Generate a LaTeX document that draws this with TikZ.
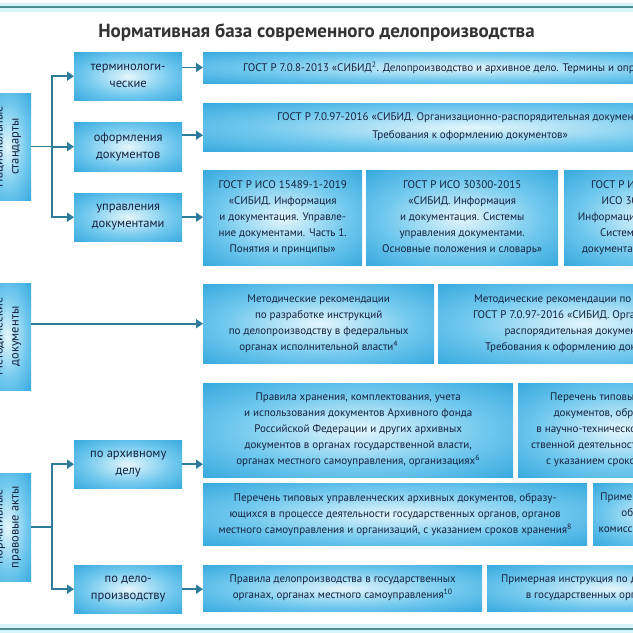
\documentclass[tikz,border=0pt]{standalone}
\usepackage{fontspec}
\setmainfont{PT Sans}
\usetikzlibrary{arrows.meta}
\definecolor{boxblue}{HTML}{1898D6}
\definecolor{boxmid}{HTML}{72C9EE}
\definecolor{boxlight}{HTML}{E4F6FC}
\definecolor{txt}{HTML}{15223F}
\definecolor{conncol}{HTML}{2E7C9C}
\definecolor{linecol}{HTML}{4E8C93}
\definecolor{glowcol}{HTML}{D5F5FA}
\definecolor{titlecol}{HTML}{333333}
\pgfdeclareradialshading{boxshade}{\pgfpoint{0bp}{0bp}}{color(0bp)=(boxlight); color(20bp)=(boxmid); color(44bp)=(boxblue); color(70bp)=(boxblue)}
\tikzset{
  box/.style={shading=boxshade, draw=none, text=txt, align=center, inner sep=0pt,
    font=\fontsize{11}{16}\selectfont},
  lvltwo/.style={box, font=\fontsize{12.5}{17}\selectfont},
  lvlone/.style={box, rotate=90, font=\fontsize{12.5}{16}\selectfont},
  conn/.style={draw=conncol, line width=1.8pt},
  arr/.style={conn, -{Triangle[length=7pt,width=9pt]}},
}
\begin{document}
\begin{tikzpicture}[x=1pt,y=-1pt]
\useasboundingbox (0,0) rectangle (633,633);
\clip (0,0) rectangle (633,633);
\fill[white] (0,0) rectangle (633,633);
% frame lines
\fill[glowcol] (0,3) rectangle (633,12);
\draw[linecol, line width=2.5pt] (0,7) -- (633,7);
\fill[glowcol] (0,624) rectangle (633,633);
\draw[linecol, line width=2.5pt] (0,629) -- (633,629);
% title
\node[font=\fontsize{19}{22}\bfseries\selectfont, text=titlecol, anchor=base] (title) at (316.5,37) {Нормативная база современного делопроизводства};
% level 1
\node[lvlone, minimum width=107pt, minimum height=47pt] (A) at (7.5,146.5) {Национальные\\стандарты};
\node[lvlone, minimum width=107pt, minimum height=47pt] (B) at (7.5,336.5) {Методические\\документы};
\node[lvlone, minimum width=108pt, minimum height=47pt] (C) at (7.5,527) {Нормативные\\правовые акты};
% level 2
\node[lvltwo, anchor=north west, minimum width=108pt, minimum height=48pt] (term) at (74,52) {терминологи-\\ческие};
\node[lvltwo, anchor=north west, minimum width=108pt, minimum height=49pt] (oform) at (74,122) {оформления\\документов};
\node[lvltwo, anchor=north west, minimum width=108pt, minimum height=48pt] (upr) at (74,193) {управления\\документами};
\node[lvltwo, anchor=north west, minimum width=108pt, minimum height=48pt] (arch) at (74,440) {по архивному\\делу};
\node[lvltwo, anchor=north west, minimum width=108pt, minimum height=48pt] (delo) at (74,565) {по дело-\\производству};
% level 3
\node[box, anchor=west, inner xsep=40pt, minimum height=31pt] (r1) at (203,67.5) {ГОСТ Р 7.0.8-2013 «СИБИД\textsuperscript{2}. Делопроизводство и архивное дело. Термины и определения»};
\node[box, anchor=north west, minimum width=534pt, minimum height=48pt, font=\fontsize{11}{18}\selectfont] (r2) at (203,103) {ГОСТ Р 7.0.97-2016 «СИБИД. Организационно-распорядительная документация.\\Требования к оформлению документов»};
\node[box, anchor=north west, minimum width=159pt, minimum height=95pt] (g1) at (203,170) {ГОСТ Р ИСО 15489-1-2019\\«СИБИД. Информация\\и документация. Управле-\\ние документами. Часть 1.\\Понятия и принципы»};
\node[box, anchor=north west, minimum width=192pt, minimum height=95pt] (g2) at (366,170) {ГОСТ Р ИСО 30300-2015\\«СИБИД. Информация\\и документация. Системы\\управления документами.\\Основные положения и словарь»};
\node[box, anchor=north west, minimum width=172pt, minimum height=95pt] (g3) at (564,170) {ГОСТ Р ИСО 30301-2019\\ИСО 30301. СИБИД.\\Информация и документация.\\Системы управления\\документами. Требования»\textsuperscript{3}};
\node[box, anchor=north west, minimum width=231pt, minimum height=79pt] (m1) at (203,284) {Методические рекомендации\\по разработке инструкций\\по делопроизводству в федеральных\\органах исполнительной власти\textsuperscript{4}};
\node[box, anchor=north west, minimum width=294pt, minimum height=79pt] (m2) at (438,284) {Методические рекомендации по применению\\ГОСТ Р 7.0.97-2016 «СИБИД. Организационно-\\распорядительная документация.\\Требования к оформлению документов»\textsuperscript{5}};
\node[box, anchor=north west, minimum width=310pt, minimum height=94pt] (a1) at (203,383) {Правила хранения, комплектования, учета\\и использования документов Архивного фонда\\Российской Федерации и других архивных\\документов в органах государственной власти,\\органах местного самоуправления, организациях\textsuperscript{6}};
\node[box, anchor=north west, minimum width=204pt, minimum height=94pt] (a2) at (518,383) {Перечень типовых архивных\\документов, образующихся\\в научно-технической и производ-\\ственной деятельности организаций,\\с указанием сроков хранения\textsuperscript{7}};
\node[box, anchor=north west, minimum width=384pt, minimum height=62pt] (a3) at (203,483) {Перечень типовых управленческих архивных документов, образу-\\ющихся в процессе деятельности государственных органов, органов\\местного самоуправления и организаций, с указанием сроков хранения\textsuperscript{8}};
\node[box, anchor=north west, minimum width=126pt, minimum height=62pt] (a4) at (593,483) {Примерное положение\\об экспертной\\комиссии организации\textsuperscript{9}};
\node[box, anchor=north west, minimum width=279pt, minimum height=46pt] (d1) at (203,565) {Правила делопроизводства в государственных\\органах, органах местного самоуправления\textsuperscript{10}};
\node[box, anchor=north west, minimum width=246pt, minimum height=46pt] (d2) at (487,565) {Примерная инструкция по делопроизводству\\в государственных организациях\textsuperscript{11}};
% junctions
\coordinate (jA) at (52,146.5);
\coordinate (jC) at (52,527);
% connectors level 1 -> level 2
\draw[conn] (A.south) -- (jA);
\draw[arr] (jA) |- (term.west);
\draw[arr] (jA) |- (oform.west);
\draw[arr] (jA) |- (upr.west);
\draw[arr] (B.south |- m1.west) -- (m1.west);
\draw[conn] (C.south) -- (jC);
\draw[arr] (jC) |- (arch.west);
\draw[arr] (jC) |- (delo.west);
% connectors level 2 -> level 3
\draw[arr] (term.east |- r1.west) -- (r1.west);
\draw[arr] ([yshift=11.5pt]oform.east) -- ([yshift=11.5pt]oform.east -| r2.west);
\draw[arr] (upr.east) -- (upr.east -| g1.west);
\draw[arr] (arch.east) -- (arch.east -| a1.west);
\draw[arr] (delo.east) -- (delo.east -| d1.west);
\end{tikzpicture}
\end{document}
